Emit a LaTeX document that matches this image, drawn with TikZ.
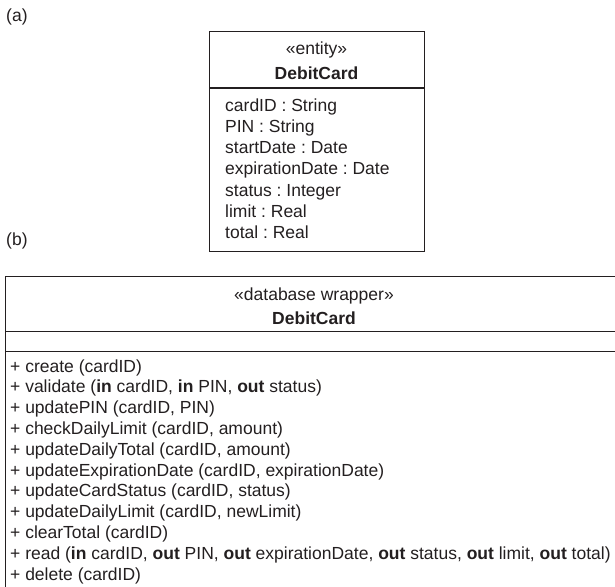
\documentclass[tikz,border=0pt]{standalone}
\usepackage{fontspec}
\setmainfont{Liberation Sans}
\definecolor{ink}{HTML}{231F20}
\frenchspacing
\begin{document}
\begin{tikzpicture}[x=1pt,y=-1pt,
  umlbox/.style={draw=ink, line width=1.3pt, inner sep=0pt, anchor=north west},
  divider/.style={draw=ink, line width=1.3pt},
  txt/.style={inner sep=0pt, text=ink, font=\fontsize{17.5}{20}\selectfont},
  lefttxt/.style={txt, anchor=base west},
  midtxt/.style={txt, anchor=base}]
\useasboundingbox (0,0) rectangle (615,586);
\clip (0,0) rectangle (615,586);

% (a)
\node[lefttxt] (la) at (6,21.5) {(a)};
\node[umlbox, minimum width=215pt, minimum height=220pt] (boxa) at (209,31) {};
\coordinate (da) at (316,88);
\draw[divider] (boxa.west |- da) -- (boxa.east |- da);
\node[midtxt] (sa) at (316.5,55) {«entity»};
\node[midtxt] (na) at (316.5,79) {\textbf{DebitCard}};
\node[lefttxt] (a1) at (225,111) {cardID : String};
\node[lefttxt] (a2) at (225,132.3) {PIN : String};
\node[lefttxt] (a3) at (225,153.6) {startDate : Date};
\node[lefttxt] (a4) at (225,174.9) {expirationDate : Date};
\node[lefttxt] (a5) at (225,196.2) {status : Integer};
\node[lefttxt] (a6) at (225,217.5) {limit : Real};
\node[lefttxt] (a7) at (225,238.8) {total : Real};

% (b)
\node[lefttxt] (lb) at (6,245.5) {(b)};
\node[umlbox, minimum width=622pt, minimum height=340pt] (boxb) at (5,276) {};
\coordinate (db1) at (300,331.5);
\coordinate (db2) at (300,351.5);
\draw[divider] (boxb.west |- db1) -- (boxb.east |- db1);
\draw[divider] (boxb.west |- db2) -- (boxb.east |- db2);
\node[midtxt] (sb) at (314,300) {«database wrapper»};
\node[midtxt] (nb) at (314,324) {\textbf{DebitCard}};
\node[lefttxt] (o1) at (10,372) {+ create (cardID)};
\node[lefttxt] (o2) at (10,392.8) {+ validate (\textbf{in} cardID, \textbf{in} PIN, \textbf{out} status)};
\node[lefttxt] (o3) at (10,413.6) {+ updatePIN (cardID, PIN)};
\node[lefttxt] (o4) at (10,434.4) {+ checkDailyLimit (cardID, amount)};
\node[lefttxt] (o5) at (10,455.2) {+ updateDailyTotal (cardID, amount)};
\node[lefttxt] (o6) at (10,476) {+ updateExpirationDate (cardID, expirationDate)};
\node[lefttxt] (o7) at (10,496.8) {+ updateCardStatus (cardID, status)};
\node[lefttxt] (o8) at (10,517.6) {+ updateDailyLimit (cardID, newLimit)};
\node[lefttxt] (o9) at (10,538.4) {+ clearTotal (cardID)};
\node[lefttxt] (o10) at (10,559.2) {+ read (\textbf{in} cardID, \textbf{out} PIN, \textbf{out} expirationDate, \textbf{out} status, \textbf{out} limit, \textbf{out} total)};
\node[lefttxt] (o11) at (10,580) {+ delete (cardID)};
\end{tikzpicture}
\end{document}
